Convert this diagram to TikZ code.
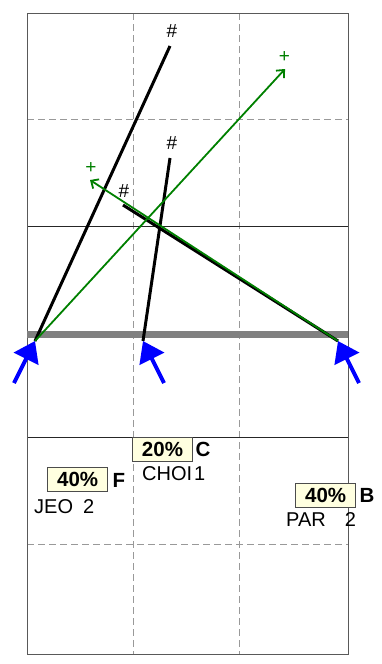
\documentclass[tikz,border=0pt]{standalone}
\usepackage{fontspec}
\setmainfont{Liberation Sans}
\usetikzlibrary{arrows.meta}
\definecolor{boxfill}{RGB}{255,255,224}
\definecolor{raygreen}{RGB}{0,128,0}

\begin{document}
\begin{tikzpicture}[x=1pt, y=-1pt,
  gridline/.style={black!40, line width=1pt, dash pattern=on 7pt off 4pt},
  bandline/.style={black!50, line width=7pt},
  rayline/.style={black, line width=3pt},
  greenray/.style={raygreen, line width=1.8pt, -{Straight Barb[length=6pt,width=11pt]}},
  bluearrow/.style={blue, line width=4pt, -{Triangle[length=20pt,width=27pt]}},
  pctbox/.style={draw=black!70, fill=boxfill, line width=1pt,
    minimum width=60pt, minimum height=24pt, inner sep=0pt,
    text height=14.5pt, text depth=0pt,
    font=\fontsize{20.5}{22}\selectfont\bfseries},
  grade/.style={anchor=west, inner sep=0pt, font=\fontsize{20.5}{22}\selectfont\bfseries},
  player/.style={anchor=base west, inner sep=0pt, font=\fontsize{20}{22}\selectfont},
  raymark/.style={inner sep=0pt, font=\fontsize{19}{20}\selectfont}
]

  \useasboundingbox (0,0) rectangle (382,664);

  % ============================================================
  % Grid: dashed guides, solid rules, frame
  % ============================================================
  \foreach \x in {133,239}
    \draw[gridline] (\x,13) -- (\x,654);
  \foreach \y in {119,544}
    \draw[gridline] (27,\y) -- (348,\y);
  \foreach \y in {226,437}
    \draw[black!85, line width=1pt] (27,\y) -- (348,\y);
  \draw[black!65, line width=1pt] (27,13) rectangle (348,654);

  % thick gray base line
  \draw[bandline] (27,334.7) -- (348,334.7);

  % ============================================================
  % Start points (arrow tips) and ray ends
  % ============================================================
  \coordinate (tipL) at (35,341);
  \coordinate (tipM) at (143,341);
  \coordinate (tipR) at (338,341);
  \coordinate (tailL) at (14,383);
  \coordinate (tailM) at (164,383);
  \coordinate (tailR) at (359,383);

  \coordinate (endL) at (170,46);
  \coordinate (endM) at (170,158);
  \coordinate (endR) at (123,205);
  \coordinate (greenA) at (285,69);
  \coordinate (greenB) at (90,180);

  % black rays with # marks
  \draw[rayline] (tipL) -- (endL);
  \draw[rayline] (tipM) -- (endM);
  \draw[rayline] (tipR) -- (endR);
  \node[raymark] (hashL) at (172,31) {\#};
  \node[raymark] (hashM) at (172,143) {\#};
  \node[raymark] (hashR) at (124,191) {\#};

  % green rays with + marks
  \draw[greenray] (tipL) -- (greenA);
  \draw[greenray] (tipR) -- (greenB);
  \node[raymark, raygreen] (plusA) at (284.5,57) {+};
  \node[raymark, raygreen] (plusB) at (91,168) {+};

  % blue arrows
  \foreach \p in {L,M,R}
    \draw[bluearrow] (tail\p) -- (tip\p);

  % ============================================================
  % Labels
  % ============================================================
  \node[pctbox] (boxC) at (162.5,449) {20\%};
  \node[grade] (gradeC) at (195.5,449) {C};
  \node[player] (nameC) at (142,480) {CHOI\hspace{2pt}1};

  \node[pctbox] (boxF) at (77.7,479.5) {40\%};
  \node[grade] (gradeF) at (112.5,480) {F};
  \node[player] (nameF) at (34,513) {JEO\hspace{10pt}2};

  \node[pctbox] (boxB) at (325.7,495) {40\%};
  \node[grade] (gradeB) at (359.5,495) {B};
  \node[player] (nameB) at (286,526) {PAR\hspace{19pt}2};

\end{tikzpicture}
\end{document}
